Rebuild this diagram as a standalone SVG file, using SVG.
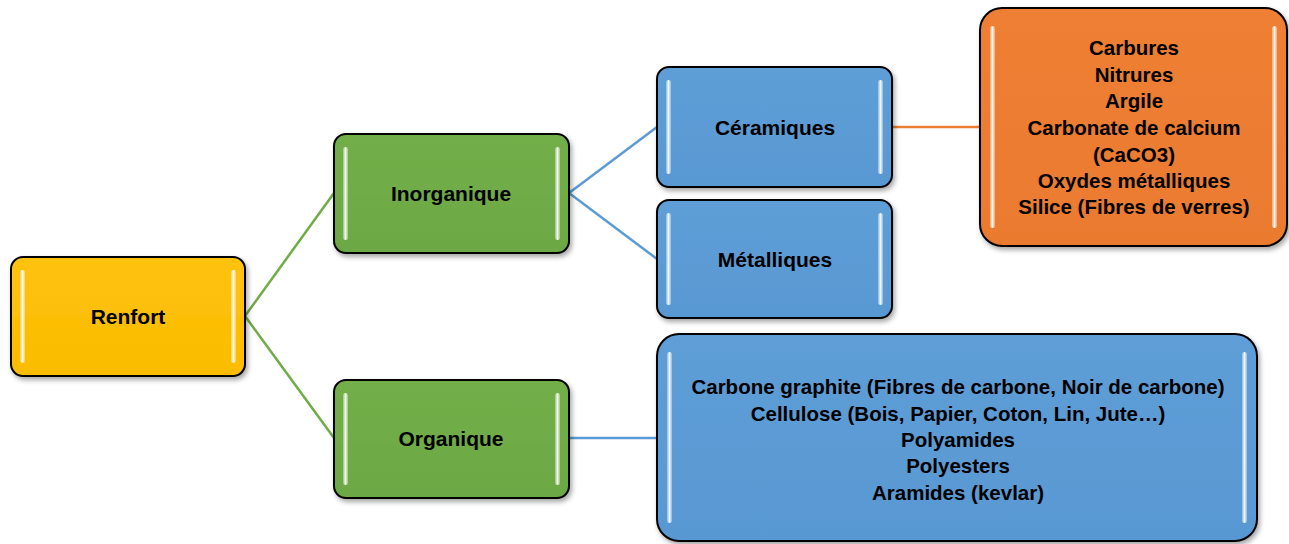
<svg xmlns="http://www.w3.org/2000/svg" width="1289" height="544" viewBox="0 0 1289 544">
<defs>
<style>
.box{stroke:#000;stroke-width:2;filter:url(#sh)}
.hl{fill:url(#hlg)}
.t{font-family:"Liberation Sans",Arial,sans-serif;font-weight:bold;font-size:21px;fill:#000;text-anchor:middle;dominant-baseline:central}
.s{font-size:20.5px}
.c{fill:none;stroke-width:2.5}
</style>
<filter id="sh" x="-10%" y="-10%" width="125%" height="130%">
<feDropShadow dx="2" dy="3" stdDeviation="2.5" flood-color="#000" flood-opacity="0.35"/>
</filter>
<linearGradient id="hlg" x1="0" y1="0" x2="1" y2="0">
<stop offset="0" stop-color="#fff" stop-opacity="0.3"/>
<stop offset="0.5" stop-color="#fff" stop-opacity="0.9"/>
<stop offset="1" stop-color="#fff" stop-opacity="0.3"/>
</linearGradient>
<linearGradient id="gy" x1="0" y1="0" x2="0" y2="1"><stop offset="0" stop-color="#FFC20D"/><stop offset="1" stop-color="#FABC00"/></linearGradient>
<linearGradient id="gg" x1="0" y1="0" x2="0" y2="1"><stop offset="0" stop-color="#72AF48"/><stop offset="1" stop-color="#6CA844"/></linearGradient>
<linearGradient id="gb" x1="0" y1="0" x2="0" y2="1"><stop offset="0" stop-color="#5E9ED7"/><stop offset="1" stop-color="#5998D2"/></linearGradient>
<linearGradient id="go" x1="0" y1="0" x2="0" y2="1"><stop offset="0" stop-color="#EE7F34"/><stop offset="1" stop-color="#EA7A2F"/></linearGradient>
</defs>
<rect width="1289" height="544" fill="#fff"/>
<g id="connectors">
<path class="c" stroke="#70AD47" d="M245,316 L334,193 M245,316 L334,438"/>
<path class="c" stroke="#5B9BD5" d="M569,193 L657,127 M569,193 L657,259 M569,438 L657,438"/>
<path class="c" stroke="#ED7D31" d="M892,127 L980,127"/>
</g>
<g id="renfort">
<rect class="box" x="11" y="257" width="234" height="119" rx="12" fill="url(#gy)"/>
<rect class="hl" x="20" y="270" width="5" height="93" rx="2.5"/>
<rect class="hl" x="231" y="270" width="5" height="93" rx="2.5"/>
<text class="t" x="128" y="316">Renfort</text>
</g>
<g id="inorganique">
<rect class="box" x="334" y="134" width="235" height="119" rx="12" fill="url(#gg)"/>
<rect class="hl" x="343" y="147" width="5" height="93" rx="2.5"/>
<rect class="hl" x="555" y="147" width="5" height="93" rx="2.5"/>
<text class="t" x="451" y="193">Inorganique</text>
</g>
<g id="organique">
<rect class="box" x="334" y="380" width="235" height="118" rx="12" fill="url(#gg)"/>
<rect class="hl" x="343" y="393" width="5" height="92" rx="2.5"/>
<rect class="hl" x="555" y="393" width="5" height="92" rx="2.5"/>
<text class="t" x="451" y="438">Organique</text>
</g>
<g id="ceramiques">
<rect class="box" x="657" y="67" width="235" height="120" rx="12" fill="url(#gb)"/>
<rect class="hl" x="666" y="80" width="5" height="94" rx="2.5"/>
<rect class="hl" x="878" y="80" width="5" height="94" rx="2.5"/>
<text class="t" x="775" y="127">Céramiques</text>
</g>
<g id="metalliques">
<rect class="box" x="657" y="200" width="235" height="118" rx="12" fill="url(#gb)"/>
<rect class="hl" x="666" y="213" width="5" height="92" rx="2.5"/>
<rect class="hl" x="878" y="213" width="5" height="92" rx="2.5"/>
<text class="t" x="775" y="259">Métalliques</text>
</g>
<g id="ceramiques-list">
<rect class="box" x="980" y="8" width="307" height="238" rx="22" fill="url(#go)"/>
<rect class="hl" x="990" y="26" width="5" height="202" rx="2.5"/>
<rect class="hl" x="1272" y="26" width="5" height="202" rx="2.5"/>
<text class="t s" x="1134" y="47">Carbures</text>
<text class="t s" x="1134" y="74">Nitrures</text>
<text class="t s" x="1134" y="100">Argile</text>
<text class="t s" x="1134" y="127">Carbonate de calcium</text>
<text class="t s" x="1134" y="154">(CaCO3)</text>
<text class="t s" x="1134" y="180">Oxydes métalliques</text>
<text class="t s" x="1134" y="206">Silice (Fibres de verres)</text>
</g>
<g id="organique-list">
<rect class="box" x="657" y="334" width="600" height="207" rx="22" fill="url(#gb)"/>
<rect class="hl" x="667" y="352" width="5" height="171" rx="2.5"/>
<rect class="hl" x="1242" y="352" width="5" height="171" rx="2.5"/>
<text class="t s" x="958" y="386">Carbone graphite (Fibres de carbone, Noir de carbone)</text>
<text class="t s" x="958" y="413">Cellulose (Bois, Papier, Coton, Lin, Jute…)</text>
<text class="t s" x="958" y="439">Polyamides</text>
<text class="t s" x="958" y="465">Polyesters</text>
<text class="t s" x="958" y="492">Aramides (kevlar)</text>
</g>
</svg>
